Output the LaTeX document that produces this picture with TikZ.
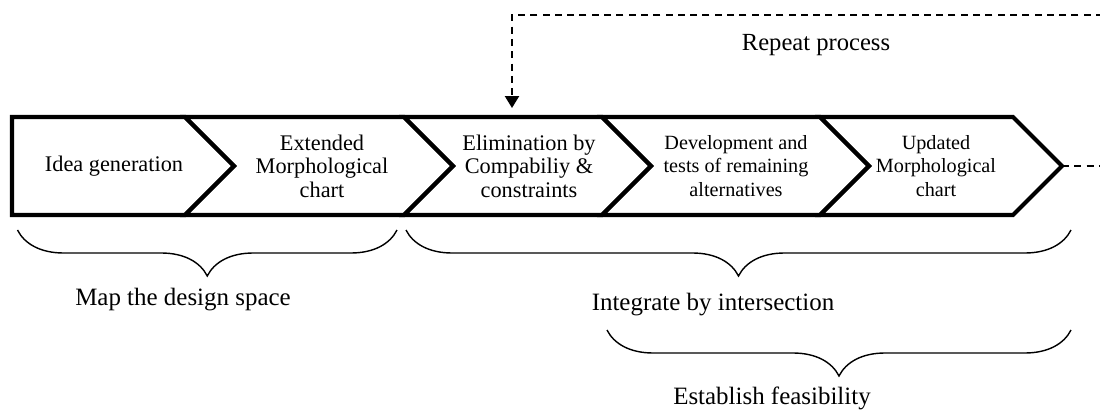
\documentclass[tikz,border=0pt]{standalone}
\usepackage{fontspec}
\setmainfont{Liberation Serif}
\usepackage{tikz}
\usetikzlibrary{arrows.meta,decorations.pathreplacing}

\begin{document}
\begin{tikzpicture}[
  x=0.02cm, y=-0.02cm,
  stage/.style={draw=black, line width=2.3pt},
  stagetext/.style={align=center, inner sep=0pt, font=\fontsize{12.7}{13.4}\selectfont},
  smalltext/.style={stagetext, font=\fontsize{11.5}{13.4}\selectfont},
  label/.style={inner sep=0pt, font=\fontsize{14.2}{16}\selectfont},
  repeatline/.style={draw=black, line width=1.1pt, dash pattern=on 4pt off 3pt,
                     -{Triangle[length=6.8pt,width=8pt]}},
  bracket/.style={draw=black, line width=0.8pt,
                  decorate, decoration={brace, mirror, amplitude=0.92cm}}
]
\clip (0,0) rectangle (1100,410);

% Chevrons
\draw[stage] (12,117) -- (185,117) -- (234,166) -- (185,215) -- (12,215) -- cycle;
\foreach \l/\r in {185/404, 404/602, 602/820, 820/1013}
  \draw[stage] (\l,117) -- (\r,117) -- (\r+49,166) -- (\r,215) -- (\l,215) -- (\l+49,166) -- cycle;

\node[stagetext] (idea)     at (114,166) {Idea generation};
\node[stagetext] (extended) at (322,166) {Extended\\Morphological\\chart};
\node[stagetext] (elim)     at (529,166) {Elimination by\\Compabiliy \&\\constraints};
\node[smalltext] (devel)    at (736,166) {Development and\\tests of remaining\\alternatives};
\node[smalltext] (updated)  at (936,166) {Updated\\Morphological\\chart};

% Repeat loop
\coordinate (tip)   at (1062,166);
\coordinate (outer) at (1130,166);
\coordinate (turn)  at (512,15);
\coordinate (entry) at (512,108);
\draw[repeatline] (tip) -- (outer) |- (turn) -- (entry);
\node[label, font=\fontsize{14}{16}\selectfont] (repeat) at (816,45) {Repeat process};

% Braces
\draw[bracket] (17.5,230) -- (397,230);
\draw[bracket] (406,230) -- (1071,230);
\draw[bracket] (607,330) -- (1071,330);

\node[label] (mapspace)  at (183,300) {Map the design space};
\node[label] (integrate) at (713,305) {Integrate by intersection};
\node[label] (feasible)  at (772,398) {Establish feasibility};
\end{tikzpicture}
\end{document}
